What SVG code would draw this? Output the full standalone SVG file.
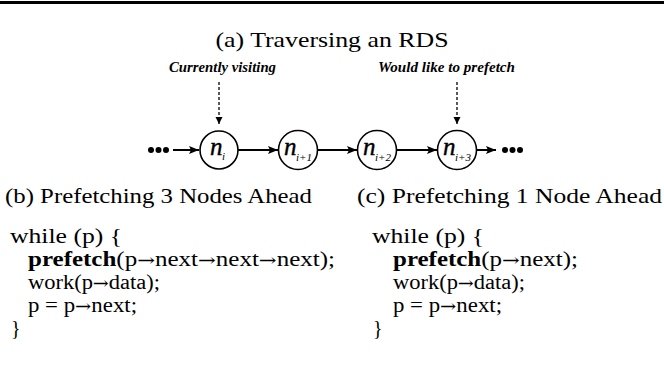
<svg xmlns="http://www.w3.org/2000/svg" width="664" height="366" viewBox="0 0 664 366">
<defs>
<marker id="ah" viewBox="0 0 10 8" refX="10" refY="4" markerWidth="11" markerHeight="8" markerUnits="userSpaceOnUse" orient="auto">
<path d="M0,0 L10,4 L0,8 L2,4 Z" fill="#000"/>
</marker>
<marker id="ahs" viewBox="0 0 8 8" refX="8" refY="4" markerWidth="7" markerHeight="8" markerUnits="userSpaceOnUse" orient="auto">
<path d="M0,0 L8,4 L0,8 Z" fill="#000"/>
</marker>
<style>
.t{font-family:"Liberation Serif","DejaVu Serif",serif;fill:#000}
.lab{font-family:"Liberation Serif","DejaVu Serif",serif;font-style:italic;font-weight:bold;font-size:14px;fill:#000}
.code{font-family:"Liberation Serif","DejaVu Serif",serif;font-size:20px;fill:#000}
.ar{font-family:"DejaVu Serif",serif;font-size:17px}
.node circle{fill:#fff;stroke:#000;stroke-width:1.6}
.nn{font-family:"Liberation Serif","DejaVu Serif",serif;font-style:italic;font-size:25px;fill:#000;stroke:#000;stroke-width:0.4}
.sub{font-family:"Liberation Serif","DejaVu Serif",serif;font-style:italic;font-size:11px;fill:#000}
.edge{stroke:#000;stroke-width:2;fill:none;marker-end:url(#ah)}
.dash{stroke:#000;stroke-width:1.3;stroke-dasharray:3,2;fill:none;marker-end:url(#ahs)}
</style>
</defs>
<line x1="0" y1="2.5" x2="664" y2="2.5" stroke="#000" stroke-width="3"/>
<text class="t" x="332" y="47" font-size="21" text-anchor="middle" textLength="233" lengthAdjust="spacingAndGlyphs">(a) Traversing an RDS</text>
<text class="lab" x="169" y="72" textLength="107" lengthAdjust="spacingAndGlyphs">Currently visiting</text>
<text class="lab" x="378" y="72" textLength="137" lengthAdjust="spacingAndGlyphs">Would like to prefetch</text>
<g id="connectors">
<line class="dash" x1="219" y1="82" x2="219" y2="124"/>
<line class="dash" x1="457" y1="82" x2="457" y2="124"/>
<line class="edge" x1="173" y1="150" x2="199" y2="150"/>
<line class="edge" x1="238" y1="150" x2="278" y2="150"/>
<line class="edge" x1="318" y1="150" x2="357" y2="150"/>
<line class="edge" x1="397" y1="150" x2="437" y2="150"/>
<line class="edge" x1="477" y1="150" x2="496" y2="150"/>
</g>
<g id="dots-left">
<circle cx="151" cy="150" r="3"/><circle cx="158.5" cy="150" r="3"/><circle cx="166" cy="150" r="3"/>
</g>
<g id="dots-right">
<circle cx="505" cy="150" r="3"/><circle cx="512.5" cy="150" r="3"/><circle cx="520" cy="150" r="3"/>
</g>
<g id="n0" class="node"><circle cx="219" cy="150" r="19"/><text class="nn" x="210" y="155">n</text><text class="sub" x="222" y="160">i</text></g>
<g id="n1" class="node"><circle cx="298" cy="150" r="19.5"/><text class="nn" x="284" y="155">n</text><text class="sub" x="296" y="161">i+1</text></g>
<g id="n2" class="node"><circle cx="377" cy="150" r="19.5"/><text class="nn" x="363" y="155">n</text><text class="sub" x="375" y="161">i+2</text></g>
<g id="n3" class="node"><circle cx="457" cy="150" r="19.5"/><text class="nn" x="443" y="155">n</text><text class="sub" x="455" y="161">i+3</text></g>
<text class="t" x="5" y="203" font-size="21" textLength="307" lengthAdjust="spacingAndGlyphs">(b) Prefetching 3 Nodes Ahead</text>
<text class="t" x="357" y="203" font-size="21" textLength="305" lengthAdjust="spacingAndGlyphs">(c) Prefetching 1 Node Ahead</text>
<g id="code-b">
<text class="code" x="10" y="243" textLength="112" lengthAdjust="spacingAndGlyphs">while (p) {</text>
<text class="code" x="28" y="266" textLength="307" lengthAdjust="spacingAndGlyphs"><tspan font-weight="bold">prefetch</tspan>(p<tspan class="ar">→</tspan>next<tspan class="ar">→</tspan>next<tspan class="ar">→</tspan>next);</text>
<text class="code" x="28" y="289" textLength="132" lengthAdjust="spacingAndGlyphs">work(p<tspan class="ar">→</tspan>data);</text>
<text class="code" x="28" y="312" textLength="109" lengthAdjust="spacingAndGlyphs">p = p<tspan class="ar">→</tspan>next;</text>
<text class="code" x="11" y="335">}</text>
</g>
<g id="code-c">
<text class="code" x="372" y="243" textLength="112" lengthAdjust="spacingAndGlyphs">while (p) {</text>
<text class="code" x="393" y="266" textLength="185" lengthAdjust="spacingAndGlyphs"><tspan font-weight="bold">prefetch</tspan>(p<tspan class="ar">→</tspan>next);</text>
<text class="code" x="393" y="289" textLength="132" lengthAdjust="spacingAndGlyphs">work(p<tspan class="ar">→</tspan>data);</text>
<text class="code" x="393" y="312" textLength="109" lengthAdjust="spacingAndGlyphs">p = p<tspan class="ar">→</tspan>next;</text>
<text class="code" x="373" y="335">}</text>
</g>
</svg>
